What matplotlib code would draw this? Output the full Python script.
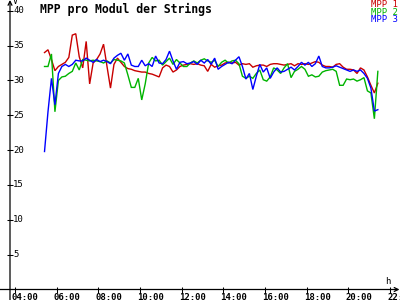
import numpy as np
import matplotlib
matplotlib.use("Agg")
import matplotlib.pyplot as plt
from matplotlib import transforms

# ---------------- data ----------------
start_hour = 5 + 25 / 60          # 05:25
step_hour = 10 / 60               # 10-minute samples

mpp1 = [34.0, 34.4, 33.0, 31.4, 32.0, 32.3, 32.6, 33.3, 36.5, 36.7,
        33.4, 31.8, 35.6, 29.5, 32.5, 33.0, 33.8, 35.2, 32.0, 28.9,
        32.3, 33.2, 32.6, 32.0, 31.7, 31.6, 31.4, 31.3, 31.2, 31.2,
        31.0, 30.9, 30.7, 30.5, 31.8, 32.2, 32.0, 31.2, 31.5, 32.0,
        32.2, 32.3, 32.4, 32.3, 32.4, 32.2, 32.1, 31.3, 32.3, 31.9,
        32.1, 32.2, 32.5, 32.6, 32.5, 32.6, 32.2, 32.4, 32.3, 32.4,
        31.9, 32.1, 32.2, 32.2, 32.0, 32.3, 32.4, 32.4, 32.3, 32.2,
        32.3, 32.4, 32.1, 32.4, 32.3, 32.4, 32.3, 32.5, 32.7, 32.6,
        32.2, 32.0, 32.0, 31.9, 32.3, 32.4, 31.9, 31.6, 31.6, 31.5,
        31.0, 31.8, 31.5, 30.5, 29.3, 28.2, 29.6]

mpp2 = [32.0, 32.0, 33.8, 25.5, 30.0, 30.5, 30.6, 31.0, 31.3, 32.5,
        31.5, 33.0, 32.9, 32.8, 32.9, 32.8, 32.7, 32.5, 32.8, 32.5,
        33.0, 32.9, 32.8, 32.5, 30.8, 29.0, 29.0, 30.3, 27.2, 29.5,
        32.5, 33.3, 32.8, 32.9, 32.2, 32.7, 33.2, 32.3, 33.0, 32.5,
        32.0, 32.0, 32.5, 32.8, 32.5, 32.9, 33.1, 32.8, 32.6, 32.9,
        32.0, 32.6, 32.9, 32.5, 32.8, 32.9, 32.4, 30.6, 30.3, 30.6,
        30.3, 31.0, 31.5, 30.1, 29.9, 30.5, 31.8, 31.5, 31.0, 31.8,
        32.4, 30.4, 31.3, 31.6, 32.0, 31.6, 30.6, 30.8, 30.5, 30.6,
        31.2, 31.4, 31.5, 31.6, 31.3, 29.3, 29.3, 30.2, 30.1, 30.2,
        29.9, 30.1, 30.4, 28.5, 28.2, 24.5, 31.3]

mpp3 = [19.8, 25.5, 30.3, 26.5, 31.0, 32.0, 32.3, 32.0, 32.3, 32.9,
        32.8, 32.8, 33.2, 32.9, 32.6, 33.0, 32.7, 32.9, 32.7, 32.4,
        33.2, 33.6, 33.9, 32.9, 33.8, 32.2, 32.0, 32.0, 32.9, 32.1,
        32.4, 32.0, 33.5, 32.5, 32.4, 33.0, 34.2, 32.8, 31.6, 32.6,
        32.7, 32.4, 32.5, 32.7, 32.3, 32.9, 32.5, 33.0, 32.3, 33.2,
        31.6, 32.0, 32.3, 32.6, 32.4, 32.9, 33.4, 32.0, 30.2, 31.0,
        28.7, 30.6, 32.3, 31.2, 31.8, 30.3, 31.2, 31.8, 31.2, 31.3,
        31.6, 31.9, 31.5, 32.0, 32.6, 32.2, 32.6, 32.0, 32.4, 33.5,
        32.0, 31.8, 31.8, 31.9, 32.1, 31.9, 31.7, 31.5, 31.3, 31.5,
        31.3, 31.5, 31.0, 30.3, 28.9, 25.6, 25.8]

series_names = ["MPP 1", "MPP 2", "MPP 3"]
series_colors = ["#c80000", "#00b400", "#0000ff"]

x_tick_hours = [4, 6, 8, 10, 12, 14, 16, 18, 20, 22]
x_tick_labels = ["04:00", "06:00", "08:00", "10:00", "12:00",
                 "14:00", "16:00", "18:00", "20:00", "22:00"]
y_ticks = [5, 10, 15, 20, 25, 30, 35, 40]

title = "MPP pro Modul der Strings"

# ---------------- figure ----------------
W, H = 400, 300
fig = plt.figure(figsize=(4, 3), dpi=100)
fig.patch.set_facecolor("white")

ax_left, ax_right, ax_zero = 10, 398, 289.5   # pixels
ax = fig.add_axes([ax_left / W, (H - ax_zero) / H,
                   (ax_right - ax_left) / W, ax_zero / H])
ax.set_xlim(3.76, 22.384)
ax.set_ylim(0, 41.54)
for s in ax.spines.values():
    s.set_visible(False)
ax.patch.set_alpha(0)

times = start_hour + step_hour * np.arange(len(mpp1))
for vals, col in zip([mpp1, mpp2, mpp3], series_colors):
    ax.plot(times, vals, color=col, lw=1.0, solid_joinstyle="miter")

# axis lines with arrows
aw = ax_right - ax_left
ah = ax_zero
arr = dict(arrowstyle="->", lw=0.9, color="black", shrinkA=0, shrinkB=0,
           mutation_scale=7)
ax.annotate("", xy=(1 + 1.5 / aw, 0), xytext=(-10 / aw, 0),
            xycoords="axes fraction", arrowprops=arr, annotation_clip=False)
ax.annotate("", xy=(0, 1.0), xytext=(0, -10.5 / ah),
            xycoords="axes fraction", arrowprops=arr, annotation_clip=False)

ax.set_xticks(x_tick_hours)
ax.set_yticks(y_ticks)
ax.tick_params(direction="inout", length=4.5, width=0.75, color="black",
               labelbottom=False, labelleft=False)

font = "DejaVu Sans Mono"
px = 1 / fig.dpi
xt = ax.transData + transforms.ScaledTranslation(-3 * px, -4 * px, fig.dpi_scale_trans)
for h, lab in zip(x_tick_hours, x_tick_labels):
    ax.text(h, 0, lab, transform=xt, ha="left", va="top", fontsize=6.5,
            family=font, fontweight="bold", clip_on=False)

yt = transforms.blended_transform_factory(ax.transAxes, ax.transData) + \
    transforms.ScaledTranslation(3 * px, 0, fig.dpi_scale_trans)
for v in y_ticks:
    ax.text(0, v, str(v), transform=yt, ha="left", va="center", fontsize=6.5,
            family=font, clip_on=False)

# unit labels
fig.text(13 / W, 1 - 1.5 / H, "V", ha="left", va="center", fontsize=6,
         family=font)
fig.text(385 / W, 1 - 281 / H, "h", ha="left", va="center", fontsize=6.5,
         family=font)

# title
fig.text(40 / W, 1 - 2.5 / H, title, ha="left", va="top", fontsize=8.3,
         family=font, fontweight="bold")

# legend (coloured labels, right aligned)
for i, (name, col) in enumerate(zip(series_names, series_colors)):
    fig.text(398 / W, 1 - (4.5 + 7.6 * i) / H, name, ha="right", va="center",
             fontsize=6.5, family=font, color=col)

fig.savefig("out.png", dpi=100, facecolor="white")
